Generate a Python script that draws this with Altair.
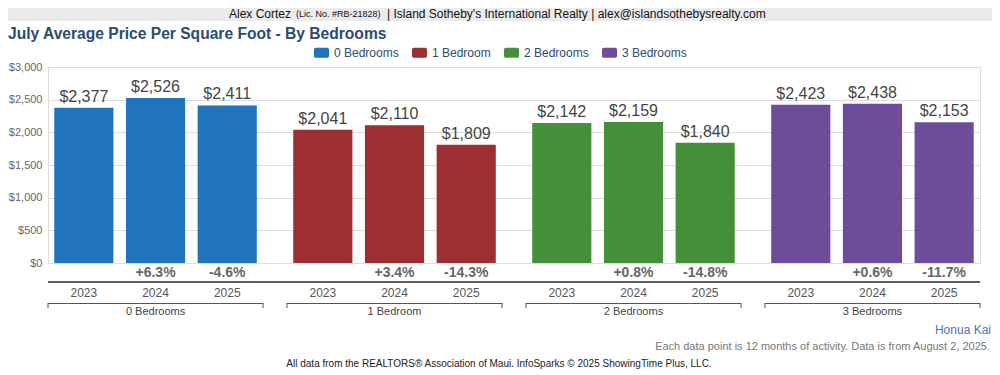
import altair as alt
import pandas as pd

# ---------------- data ----------------
bedrooms = ["0 Bedrooms", "1 Bedroom", "2 Bedrooms", "3 Bedrooms"]
years = ["2023", "2024", "2025"]
price_0 = [2377, 2526, 2411]
price_1 = [2041, 2110, 1809]
price_2 = [2142, 2159, 1840]
price_3 = [2423, 2438, 2153]
change_0 = ["", "+6.3%", "-4.6%"]
change_1 = ["", "+3.4%", "-14.3%"]
change_2 = ["", "+0.8%", "-14.8%"]
change_3 = ["", "+0.6%", "-11.7%"]
colors = ["#1f74bb", "#9b2f31", "#44903a", "#6d4c9a"]
y_ticks = [0, 500, 1000, 1500, 2000, 2500, 3000]

title_text = "July Average Price Per Square Foot - By Bedrooms"
header_name = "Alex Cortez"
header_lic = "(Lic. No. #RB-21828)"
header_rest = "| Island Sotheby's International Realty | alex@islandsothebysrealty.com"
area_text = "Honua Kai"
note_text = "Each data point is 12 months of activity. Data is from August 2, 2025."
footer_text = "All data from the REALTORS\u00ae Association of Maui. InfoSparks \u00a9 2025 ShowingTime Plus, LLC."

prices = [price_0, price_1, price_2, price_3]
changes = [change_0, change_1, change_2, change_3]
rows = []
for b, pr, ch in zip(bedrooms, prices, changes):
    for y, p, c in zip(years, pr, ch):
        rows.append({"bedroom": b, "year": y, "price": p,
                     "price_label": "${:,}".format(p), "change": c})
df = pd.DataFrame(rows)
groups = pd.DataFrame({"bedroom": bedrooms})

W, H = 932, 196
FONT = "Liberation Sans"
rounded = ("M-0.75,-0.667H0.75A0.25,0.25,0,0,1,1,-0.417V0.417"
           "A0.25,0.25,0,0,1,0.75,0.667H-0.75A0.25,0.25,0,0,1,-1,0.417"
           "V-0.417A0.25,0.25,0,0,1,-0.75,-0.667Z")

x_enc = alt.X("bedroom:N", sort=bedrooms,
              scale=alt.Scale(paddingInner=0.1, paddingOuter=0), axis=None)
xo_enc = alt.XOffset("year:N", sort=years,
                     scale=alt.Scale(paddingInner=0.175, paddingOuter=0.0875))
y_enc = alt.Y("price:Q", scale=alt.Scale(domain=[0, 3000], nice=False),
              axis=alt.Axis(values=y_ticks, tickCount=10, format="$,.0f",
                            title=None, domain=False, ticks=False,
                            labelPadding=6, labelColor="#666",
                            labelFontSize=11, labelOverlap=False,
                            labelBound=False, gridColor="#dddddd",
                            labelFont=FONT))

base = alt.Chart(df)

bars = base.mark_bar().encode(
    x=x_enc, xOffset=xo_enc, y=y_enc,
    color=alt.Color("bedroom:N", sort=bedrooms,
                    scale=alt.Scale(domain=bedrooms, range=colors),
                    legend=alt.Legend(title=None, orient="none", legendX=266,
                                      legendY=-22, direction="horizontal",
                                      columns=4, symbolType=rounded,
                                      symbolSize=225, symbolStrokeWidth=0,
                                      symbolOpacity=1,
                                      labelFontSize=12, labelColor="#2b4c70",
                                      labelFont=FONT, labelOffset=5,
                                      columnPadding=13, padding=0)),
)

value_labels = base.mark_text(baseline="bottom", dy=-3, fontSize=16,
                              color="#444", font=FONT).encode(
    x=x_enc, xOffset=xo_enc, y=y_enc, text="price_label:N")

change_labels = base.mark_text(baseline="middle", fontSize=14, fontWeight="bold",
                               color="#666", font=FONT).encode(
    x=x_enc, xOffset=xo_enc, y=alt.value(206), text="change:N")

year_labels = base.mark_text(baseline="middle", fontSize=12, color="#555",
                             font=FONT).encode(
    x=x_enc, xOffset=xo_enc, y=alt.value(226), text="year:N")

gbase = alt.Chart(groups)
bracket_line = gbase.mark_bar(color="#555").encode(
    x=x_enc, y=alt.value(236), y2=alt.value(237))
bracket_left = gbase.mark_rule(color="#555").encode(
    x=alt.X("bedroom:N", sort=bedrooms, bandPosition=0, axis=None),
    y=alt.value(236), y2=alt.value(241))
bracket_right = gbase.mark_rule(color="#555").encode(
    x=alt.X("bedroom:N", sort=bedrooms, bandPosition=1, axis=None),
    y=alt.value(236), y2=alt.value(241))
group_labels = gbase.mark_text(baseline="middle", fontSize=11, color="#444",
                               font=FONT).encode(
    x=x_enc, y=alt.value(245), text="bedroom:N")

axis_line = gbase.mark_rule(color="#555").encode(
    x=alt.value(0), x2=alt.value(W), y=alt.value(215))

header_bar = gbase.mark_rect(color="#ebebeb").encode(
    x=alt.value(-40), x2=alt.value(W + 12), y=alt.value(-59), y2=alt.value(-46))


def label(text, x, y, size, color, align="left", weight="normal"):
    return alt.Chart(pd.DataFrame({"t": [text]})).mark_text(
        align=align, baseline="middle", fontSize=size, color=color,
        fontWeight=weight, font=FONT).encode(
        x=alt.value(x), y=alt.value(y), text="t:N")


layers = [
    header_bar,
    bars, value_labels, change_labels, axis_line, year_labels,
    bracket_line, bracket_left, bracket_right, group_labels,
    label(header_name, 181, -53, 12, "#111"),
    label(header_lic, 248, -53, 9, "#111"),
    label(header_rest, 339, -53, 12, "#111"),
    label(title_text, -40, -33, 15.6, "#2b4c70", weight="bold"),
    label(area_text, 943, 263, 12, "#4a78a9", align="right"),
    label(note_text, 942, 280, 11, "#777", align="right"),
    label(footer_text, 451, 297, 10, "#222", align="center"),
]

chart = alt.layer(*layers).properties(
    width=W, height=H,
    autosize=alt.AutoSizeParams(type="none"),
    padding={"left": 40, "top": 59, "right": 12, "bottom": 107},
).configure_view(stroke=None).configure(font=FONT)

chart.save("out.html", embed_options={"renderer": "svg", "actions": False})
